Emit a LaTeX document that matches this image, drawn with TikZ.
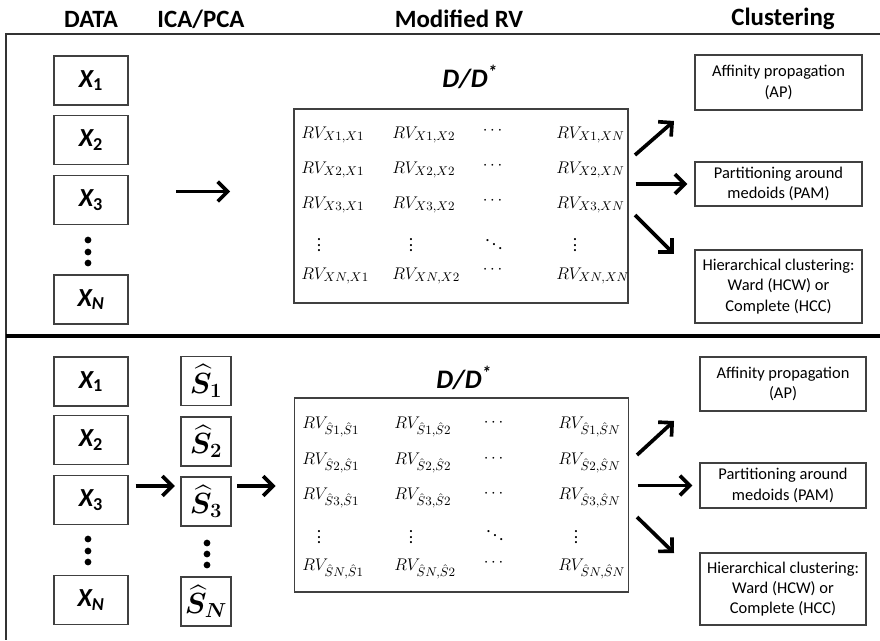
\documentclass[tikz,border=0pt]{standalone}
\usepackage{fontspec}
\setmainfont{Carlito}
\usepackage{amsmath}
\usepackage{bm}
\usetikzlibrary{arrows.meta}

\tikzset{
  headtext/.style={font=\fontsize{17.7}{21}\selectfont\bfseries},
  datalabel/.style={font=\fontsize{19}{22}\selectfont\bfseries\itshape},
  databox/.style={draw=black!75, line width=0.8pt, minimum width=1.85cm, minimum height=1.225cm, inner sep=0pt, font=\fontsize{18.5}{21}\selectfont\bfseries\itshape},
  sourcebox/.style={databox, minimum width=1.25cm, font=\fontsize{20}{23}\selectfont},
  rvbox/.style={draw=black!75, line width=0.8pt, minimum width=8.35cm, minimum height=4.85cm, inner sep=0pt},
  rvcell/.style={font=\fontsize{12.5}{14}\selectfont, inner sep=0pt},
  clusterbox/.style={draw=black!75, line width=0.8pt, minimum width=4.175cm, inner sep=2pt, align=center, font=\fontsize{11.7}{14.5}\selectfont},
  bigarrow/.style={line width=2.6pt, -{Straight Barb[length=7pt,width=14pt]}},
}

\begin{document}
\begin{tikzpicture}[x=0.025cm, y=-0.025cm]
  \useasboundingbox (0,0) rectangle (880,640);

  % column heads
  \node[headtext] (hdata) at (91,19) {DATA};
  \node[headtext] (hica) at (201,19) {ICA/PCA};
  \node[headtext] (hrv) at (459,19) {Modified RV};
  \node[headtext] (hclus) at (783,19) {Clustering};

  % frame
  \draw[black!80, line width=0.8pt] (880,34) -- (6,34) -- (6,640);
  \draw[black, line width=2.5pt] (6,336) -- (880,336);

  % ---- top panel ----
  \node[databox] (tX1) at (91,80.5) {X\textsubscript{\upshape 1}};
  \node[databox] (tX2) at (91,140) {X\textsubscript{\upshape 2}};
  \node[databox] (tX3) at (91,200) {X\textsubscript{\upshape 3}};
  \node[databox] (tXN) at (91,299.5) {X\textsubscript{N}};
  \fill (88,240) circle (2.4pt) (88,252) circle (2.4pt) (88,263) circle (2.4pt);

  \node[datalabel] (tD) at (470,77) {D/D\textsuperscript{*}};
  \node[rvbox] (mtop) at (461,206) {};

  \node[rvcell, anchor=west] (t11) at (301,135) {$RV_{X1,X1}$};
  \node[rvcell, anchor=west] (t12) at (392,135) {$RV_{X1,X2}$};
  \node[rvcell] (t13) at (494,131) {$\cdots$};
  \node[rvcell, anchor=west] (t14) at (556,135) {$RV_{X1,XN}$};
  \node[rvcell, anchor=west] (t21) at (301,170) {$RV_{X2,X1}$};
  \node[rvcell, anchor=west] (t22) at (392,170) {$RV_{X2,X2}$};
  \node[rvcell] (t23) at (494,166) {$\cdots$};
  \node[rvcell, anchor=west] (t24) at (556,170) {$RV_{X2,XN}$};
  \node[rvcell, anchor=west] (t31) at (301,205) {$RV_{X3,X1}$};
  \node[rvcell, anchor=west] (t32) at (392,205) {$RV_{X3,X2}$};
  \node[rvcell] (t33) at (494,201) {$\cdots$};
  \node[rvcell, anchor=west] (t34) at (556,205) {$RV_{X3,XN}$};
  \node[rvcell] (t41) at (319,241) {$\vdots$};
  \node[rvcell] (t42) at (411,241) {$\vdots$};
  \node[rvcell] (t43) at (494,240) {$\ddots$};
  \node[rvcell] (t44) at (575,241) {$\vdots$};
  \node[rvcell, anchor=west] (t51) at (301,276) {$RV_{XN,X1}$};
  \node[rvcell, anchor=west] (t52) at (392,276) {$RV_{XN,X2}$};
  \node[rvcell] (t53) at (494,270) {$\cdots$};
  \node[rvcell, anchor=west] (t54) at (556,276) {$RV_{XN,XN}$};

  \node[clusterbox, minimum height=1.375cm] (tAP) at (778.5,82.5) {Affinity propagation\\(AP)};
  \node[clusterbox, minimum height=1.1cm] (tPAM) at (778.5,184) {Partitioning around\\medoids (PAM)};
  \node[clusterbox, minimum height=1.825cm] (tHC) at (778.5,286.5) {Hierarchical clustering:\\Ward (HCW) or\\Complete (HCC)};

  \draw[bigarrow, shorten <=34pt, shorten >=45pt] ([yshift=6pt]tX3.east) -- ([yshift=6pt]tX3.east -| mtop.west);
  \coordinate (tupA) at (635,155);
  \coordinate (tupB) at (674,121);
  \coordinate (tdnA) at (635,215);
  \coordinate (tdnB) at (674,254);
  \draw[bigarrow] (tupA) -- (tupB);
  \draw[bigarrow, shorten <=5pt, shorten >=5pt] (mtop.east |- tPAM.west) -- (tPAM.west);
  \draw[bigarrow] (tdnA) -- (tdnB);

  % ---- bottom panel ----
  \node[databox] (bX1) at (91,381.5) {X\textsubscript{\upshape 1}};
  \node[databox] (bX2) at (91,440) {X\textsubscript{\upshape 2}};
  \node[databox] (bX3) at (91,500) {X\textsubscript{\upshape 3}};
  \node[databox] (bXN) at (91,600) {X\textsubscript{N}};
  \fill (88,539) circle (2.4pt) (88,551) circle (2.4pt) (88,562) circle (2.4pt);

  \node[sourcebox] (bS1) at (206,381) {$\widehat{\bm{S}}_{\bm{1}}$};
  \node[sourcebox] (bS2) at (206,441.5) {$\widehat{\bm{S}}_{\bm{2}}$};
  \node[sourcebox] (bS3) at (206,501.5) {$\widehat{\bm{S}}_{\bm{3}}$};
  \node[sourcebox] (bSN) at (206,601.5) {$\widehat{\bm{S}}_{\bm{N}}$};
  \fill (207,543) circle (2.4pt) (207,554) circle (2.4pt) (207,565) circle (2.4pt);

  \node[datalabel] (bD) at (464,378) {D/D\textsuperscript{*}};
  \node[rvbox] (mbot) at (461.5,495) {};

  \node[rvcell, anchor=west] (b11) at (302,427) {$RV_{\hat{S}1,\hat{S}1}$};
  \node[rvcell, anchor=west] (b12) at (394,427) {$RV_{\hat{S}1,\hat{S}2}$};
  \node[rvcell] (b13) at (495,423) {$\cdots$};
  \node[rvcell, anchor=west] (b14) at (558,427) {$RV_{\hat{S}1,\hat{S}N}$};
  \node[rvcell, anchor=west] (b21) at (302,463) {$RV_{\hat{S}2,\hat{S}1}$};
  \node[rvcell, anchor=west] (b22) at (394,463) {$RV_{\hat{S}2,\hat{S}2}$};
  \node[rvcell] (b23) at (495,459) {$\cdots$};
  \node[rvcell, anchor=west] (b24) at (558,463) {$RV_{\hat{S}2,\hat{S}N}$};
  \node[rvcell, anchor=west] (b31) at (302,498) {$RV_{\hat{S}3,\hat{S}1}$};
  \node[rvcell, anchor=west] (b32) at (394,498) {$RV_{\hat{S}3,\hat{S}2}$};
  \node[rvcell] (b33) at (495,494) {$\cdots$};
  \node[rvcell, anchor=west] (b34) at (558,498) {$RV_{\hat{S}3,\hat{S}N}$};
  \node[rvcell] (b41) at (319,533) {$\vdots$};
  \node[rvcell] (b42) at (411,533) {$\vdots$};
  \node[rvcell] (b43) at (495,531) {$\ddots$};
  \node[rvcell] (b44) at (576,533) {$\vdots$};
  \node[rvcell, anchor=west] (b51) at (302,569) {$RV_{\hat{S}N,\hat{S}1}$};
  \node[rvcell, anchor=west] (b52) at (394,569) {$RV_{\hat{S}N,\hat{S}2}$};
  \node[rvcell] (b53) at (495,563) {$\cdots$};
  \node[rvcell, anchor=west] (b54) at (558,569) {$RV_{\hat{S}N,\hat{S}N}$};

  \node[clusterbox, minimum width=4.15cm, minimum height=1.35cm] (bAP) at (783,384) {Affinity propagation\\(AP)};
  \node[clusterbox, minimum width=4.15cm, minimum height=1.125cm] (bPAM) at (783,485.5) {Partitioning around\\medoids (PAM)};
  \node[clusterbox, minimum width=4.15cm, minimum height=1.8cm] (bHC) at (783,589) {Hierarchical clustering:\\Ward (HCW) or\\Complete (HCC)};

  \draw[bigarrow, shorten <=5pt, shorten >=4pt] ([yshift=10pt]bX3.east) -- ([yshift=10pt]bX3.east -| bS3.west);
  \draw[bigarrow, shorten <=4pt, shorten >=13pt] ([yshift=11pt]bS3.east) -- ([yshift=11pt]bS3.east -| mbot.west);
  \coordinate (bupA) at (637,455);
  \coordinate (bupB) at (674,421);
  \coordinate (bdnA) at (637,517);
  \coordinate (bdnB) at (674,553);
  \draw[bigarrow] (bupA) -- (bupB);
  \draw[bigarrow, shorten <=6pt, shorten >=5pt] (mbot.east |- bPAM.west) -- (bPAM.west);
  \draw[bigarrow] (bdnA) -- (bdnB);
\end{tikzpicture}
\end{document}
